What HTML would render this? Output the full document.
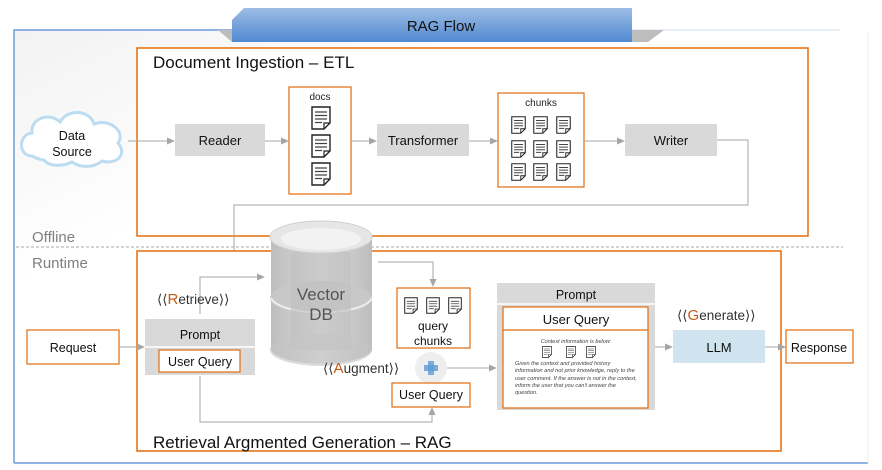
<!DOCTYPE html>
<html><head><meta charset="utf-8"><style>
html,body{margin:0;padding:0;background:#fff;width:882px;height:470px;overflow:hidden}
text{font-family:"Liberation Sans",sans-serif}
</style></head><body>
<svg width="882" height="470" viewBox="0 0 882 470" xmlns="http://www.w3.org/2000/svg">
<defs>
<linearGradient id="tab" x1="0" y1="0" x2="0" y2="1"><stop offset="0" stop-color="#9dbde6"/><stop offset="1" stop-color="#5189d0"/></linearGradient>
<linearGradient id="bg" x1="0" y1="0" x2="1" y2="1"><stop offset="0" stop-color="#f2f2f2"/><stop offset="0.3" stop-color="#ffffff"/></linearGradient>
<linearGradient id="cyl" x1="0" y1="0" x2="1" y2="0"><stop offset="0" stop-color="#bdbdbd"/><stop offset="0.5" stop-color="#dcdcdc"/><stop offset="1" stop-color="#bdbdbd"/></linearGradient>
<marker id="ar" markerWidth="8" markerHeight="8" refX="7" refY="4" orient="auto" markerUnits="userSpaceOnUse"><path d="M0,0.5 L8,4 L0,7.5z" fill="#a6a6a6"/></marker>
<symbol id="doc" viewBox="0 0 20 24"><path d="M1,1 H19 V17 L13,23 H1z" fill="#fff" stroke="#222" stroke-width="1.4"/><path d="M13,23 V17 H19" fill="none" stroke="#222" stroke-width="1.2"/><path d="M4,6H16M4,9.5H16M4,13H16M4,16.5H11" stroke="#444" stroke-width="1.2"/></symbol>
</defs>
<rect x="14" y="30" width="854" height="433" fill="url(#bg)"/>
<path d="M14,463 V30 H232" fill="none" stroke="#6d9bdc" stroke-width="1.5"/>
<line x1="14" y1="463" x2="868" y2="463" stroke="#6d9bdc" stroke-width="1.5"/>
<line x1="868" y1="32" x2="868" y2="463" stroke="#eeeeee"/>
<line x1="632" y1="30" x2="840" y2="30" stroke="#dfe8f5" stroke-width="1.5"/>
<path d="M218,30 L232,30 L232,42z" fill="#bdbdbd"/>
<path d="M632,30 L664,30 L648,42 L632,42z" fill="#bdbdbd"/>
<path d="M232,20 L244,8 L632,8 L632,42 L232,42z" fill="url(#tab)"/>
<text x="441" y="31" font-size="15" text-anchor="middle" fill="#111">RAG Flow</text>
<line x1="16" y1="247" x2="843" y2="247" stroke="#aaa" stroke-dasharray="3,2"/>
<text x="32" y="242" font-size="15" fill="#7f7f7f">Offline</text>
<text x="32" y="268" font-size="15" fill="#7f7f7f">Runtime</text>
<rect x="137" y="48" width="671" height="188" fill="#fff" stroke="#e36c0a" stroke-width="1.5"/>
<text x="153" y="68" font-size="17" fill="#111">Document Ingestion – ETL</text>
<path d="M32,156 C18,156 18,134 32,133 C30,118 50,112 60,122 C68,108 90,110 94,124 C110,118 126,132 118,143 C128,155 116,165 102,161 C94,168 80,168 72,162 C62,167 48,166 44,160 C40,160 36,158 32,156z" fill="#fff" stroke="#bcdcf2" stroke-width="3"/>
<text x="72" y="140" font-size="12.5" text-anchor="middle" fill="#111">Data</text>
<text x="72" y="156" font-size="12.5" text-anchor="middle" fill="#111">Source</text>
<line x1="128" y1="141" x2="174" y2="141" stroke="#a6a6a6" marker-end="url(#ar)"/>
<rect x="175" y="124" width="90" height="32" fill="#d9d9d9"/>
<text x="220" y="145" font-size="13" text-anchor="middle" fill="#111">Reader</text>
<line x1="265" y1="141" x2="288" y2="141" stroke="#a6a6a6" marker-end="url(#ar)"/>
<rect x="289" y="87" width="62" height="107" fill="#fff" stroke="#e36c0a" stroke-width="1.2"/>
<text x="320" y="100" font-size="10" text-anchor="middle" fill="#222">docs</text>
<use href="#doc" x="310" y="106" width="22" height="24"/>
<use href="#doc" x="310" y="134" width="22" height="24"/>
<use href="#doc" x="310" y="162" width="22" height="24"/>
<line x1="352" y1="141" x2="376" y2="141" stroke="#a6a6a6" marker-end="url(#ar)"/>
<rect x="377" y="124" width="92" height="32" fill="#d9d9d9"/>
<text x="423" y="145" font-size="13" text-anchor="middle" fill="#111">Transformer</text>
<line x1="469" y1="141" x2="497" y2="141" stroke="#a6a6a6" marker-end="url(#ar)"/>
<rect x="498" y="93" width="86" height="94" fill="#fff" stroke="#e36c0a" stroke-width="1.2"/>
<text x="541" y="106" font-size="10" text-anchor="middle" fill="#222">chunks</text>
<g>
<use href="#doc" x="511" y="116" width="15" height="18"/><use href="#doc" x="533" y="116" width="15" height="18"/><use href="#doc" x="556" y="116" width="15" height="18"/>
<use href="#doc" x="511" y="140" width="15" height="18"/><use href="#doc" x="533" y="140" width="15" height="18"/><use href="#doc" x="556" y="140" width="15" height="18"/>
<use href="#doc" x="511" y="163" width="15" height="18"/><use href="#doc" x="533" y="163" width="15" height="18"/><use href="#doc" x="556" y="163" width="15" height="18"/>
</g>
<line x1="584" y1="141" x2="624" y2="141" stroke="#a6a6a6" marker-end="url(#ar)"/>
<rect x="625" y="124" width="92" height="32" fill="#d9d9d9"/>
<text x="671" y="145" font-size="13" text-anchor="middle" fill="#111">Writer</text>
<polyline points="717,140 748,140 748,205 234,205 234,262 265,262" fill="none" stroke="#a6a6a6" marker-end="url(#ar)"/>
<rect x="137" y="251" width="644" height="200" fill="#fff" stroke="#e36c0a" stroke-width="1.5"/>
<text x="153" y="448" font-size="17" fill="#111">Retrieval Argmented Generation – RAG</text>
<rect x="27" y="330" width="92" height="34" fill="#fff" stroke="#e36c0a" stroke-width="1.2"/>
<text x="73" y="352" font-size="12.5" text-anchor="middle" fill="#111">Request</text>
<line x1="119" y1="347" x2="144" y2="347" stroke="#a6a6a6" marker-end="url(#ar)"/>
<rect x="145" y="319" width="110" height="56" fill="#d9d9d9"/>
<line x1="145" y1="347" x2="255" y2="347" stroke="#fff" stroke-width="1.5"/>
<text x="200" y="339" font-size="12.5" text-anchor="middle" fill="#111">Prompt</text>
<rect x="159" y="350" width="81" height="22" fill="#fff" stroke="#e36c0a" stroke-width="1.2"/>
<text x="200" y="366" font-size="12.5" text-anchor="middle" fill="#111">User Query</text>
<polyline points="200,314 200,277 264,277" fill="none" stroke="#a6a6a6" marker-end="url(#ar)"/>
<text x="157" y="304" font-size="13.5" fill="#333">⟨⟨<tspan fill="#c55a11" font-size="15">R</tspan>etrieve⟩⟩</text>
<polyline points="200,376 200,422 432,422 432,408" fill="none" stroke="#a6a6a6" marker-end="url(#ar)"/>
<g>
<path d="M271,238 V350 A51,16 0 0 0 372,350 V238z" fill="url(#cyl)"/>
<ellipse cx="321" cy="298" rx="51" ry="17" fill="#c8c8c8"/>
<path d="M271,298 A51,17 0 0 0 372,298" fill="none" stroke="#eee" stroke-width="2"/>
<rect x="291" y="252" width="60" height="98" fill="#bfbfbf" opacity="0.6"/>
<ellipse cx="321" cy="350" rx="51" ry="16" fill="#c4c4c4" opacity="0.6"/>
<ellipse cx="321" cy="237" rx="51" ry="16" fill="#e6e6e6" stroke="#d0d0d0"/>
<ellipse cx="321" cy="239" rx="40" ry="11" fill="#f2f2f2"/>
<text x="321" y="300" font-size="17" text-anchor="middle" fill="#555">Vector</text>
<text x="321" y="320" font-size="17" text-anchor="middle" fill="#555">DB</text>
</g>
<polyline points="378,262 433,262 433,286" fill="none" stroke="#a6a6a6" marker-end="url(#ar)"/>
<rect x="397" y="288" width="73" height="60" fill="#fff" stroke="#e36c0a" stroke-width="1.2"/>
<use href="#doc" x="404" y="297" width="14" height="17"/><use href="#doc" x="426" y="297" width="14" height="17"/><use href="#doc" x="448" y="297" width="14" height="17"/>
<text x="433" y="330" font-size="12" text-anchor="middle" fill="#111">query</text>
<text x="433" y="345" font-size="12" text-anchor="middle" fill="#111">chunks</text>
<text x="323" y="373" font-size="13.5" fill="#333">⟨⟨<tspan fill="#c55a11" font-size="15">A</tspan>ugment⟩⟩</text>
<circle cx="431" cy="368" r="16" fill="#eeeeee"/>
<rect x="424" y="365" width="14" height="6" fill="#5b9bd5" opacity="0.8"/>
<rect x="428" y="361" width="6" height="14" fill="#5b9bd5" opacity="0.8"/>
<line x1="447" y1="368" x2="496" y2="368" stroke="#a6a6a6" marker-end="url(#ar)"/>
<rect x="392" y="383" width="78" height="24" fill="#fff" stroke="#e36c0a" stroke-width="1.2"/>
<text x="431" y="399" font-size="12.5" text-anchor="middle" fill="#111">User Query</text>
<rect x="497" y="283" width="158" height="127" fill="#d9d9d9"/>
<line x1="497" y1="304" x2="655" y2="304" stroke="#fff" stroke-width="1.5"/>
<text x="576" y="299" font-size="12.5" text-anchor="middle" fill="#111">Prompt</text>
<rect x="503" y="307" width="145" height="101" fill="#fff" stroke="#e36c0a" stroke-width="1.2"/>
<line x1="503" y1="330" x2="648" y2="330" stroke="#e36c0a" stroke-width="1.2"/>
<text x="576" y="324" font-size="13" text-anchor="middle" fill="#111">User Query</text>
<text x="576" y="343" font-size="5.5" font-style="italic" text-anchor="middle" fill="#444">Context information is below:</text>
<use href="#doc" x="542" y="346" width="10" height="12"/><use href="#doc" x="566" y="346" width="10" height="12"/><use href="#doc" x="586" y="346" width="10" height="12"/>
<g font-size="5.6" font-style="italic" fill="#444">
<text x="515" y="365">Given the context and provided history</text>
<text x="515" y="372">information and not prior knowledge, reply to the</text>
<text x="515" y="380">user comment. If the answer is not in the context,</text>
<text x="515" y="387">inform the user that you can't answer the</text>
<text x="515" y="394">question.</text>
</g>
<line x1="655" y1="347" x2="672" y2="347" stroke="#a6a6a6" marker-end="url(#ar)"/>
<text x="677" y="320" font-size="13.5" fill="#333">⟨⟨<tspan fill="#c55a11" font-size="15">G</tspan>enerate⟩⟩</text>
<rect x="673" y="330" width="92" height="33" fill="#d0e4ef"/>
<text x="719" y="352" font-size="13" text-anchor="middle" fill="#111">LLM</text>
<line x1="765" y1="347" x2="785" y2="347" stroke="#a6a6a6" marker-end="url(#ar)"/>
<rect x="786" y="330" width="67" height="33" fill="#fff" stroke="#e36c0a" stroke-width="1.2"/>
<text x="819" y="352" font-size="12.5" text-anchor="middle" fill="#111">Response</text>
</svg>
</body></html>
